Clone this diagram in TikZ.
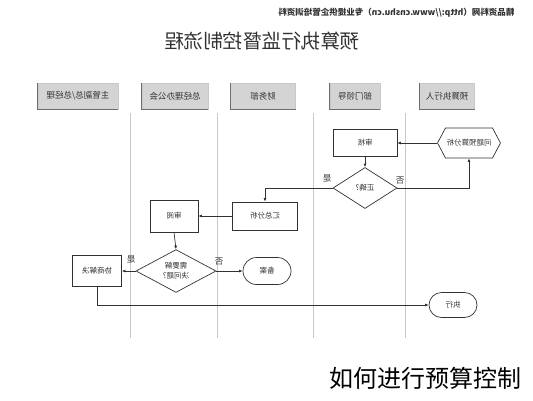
\documentclass[tikz,border=0pt]{standalone}
\usepackage{fontspec}
\usepackage{graphicx}
\setmainfont{Noto Sans CJK SC}
\usetikzlibrary{shapes.geometric}
\usetikzlibrary{shapes.misc}
\usetikzlibrary{shapes.symbols}
\usetikzlibrary{arrows.meta}
\definecolor{lgray}  {RGB}{200,200,200}
\definecolor{bgray}  {RGB}{212,212,212}
\definecolor{egray}  {RGB}{110,110,110}
\definecolor{ink}    {RGB}{50,50,50}
% the whole chart is printed mirror-wise
\newcommand{\mirtxt}[1]{\reflectbox{#1}}
\tikzset{
    lanehead/.style={fill=bgray, draw=lgray, minimum height=26pt, inner sep=1pt,
              font=\fontsize{8.5}{9}\selectfont, text=ink},
    laneedge/.style={draw=egray, line width=0.9pt},
    laneline/.style={draw=lgray, line width=0.6pt},
    taskbox/.style={rectangle, draw=ink, line width=0.7pt, inner sep=1pt,
              font=\fontsize{7.5}{8}\selectfont, text=ink},
    decide/.style={diamond, draw=ink, line width=0.7pt, inner sep=0pt,
              font=\fontsize{7.5}{9}\selectfont, text=ink},
    terminal/.style={rounded rectangle, draw=ink, line width=0.7pt, inner sep=1pt,
              font=\fontsize{7.5}{8}\selectfont, text=ink},
    problem/.style={signal, signal to=west and east, signal pointer angle=124,
              draw=ink, line width=0.7pt, inner sep=1pt,
              font=\fontsize{7.5}{8}\selectfont, text=ink},
    flow/.style={draw=ink, line width=0.7pt, -{Latex[length=3.5pt,width=3pt]}},
    answer/.style={font=\fontsize{8.5}{9}\selectfont, text=ink}
  }

\begin{document}
\begin{tikzpicture}[x=1pt,y=-1pt]
  \useasboundingbox (0,0) rectangle (533,400);
  %Page header and title
      \node[anchor=east, font=\bfseries\fontsize{8.5}{9}\selectfont, text=ink] (site) at (518,13)
          {\mirtxt{精品资料网（http://www.cnshu.cn）专业提供企管培训资料}};
      \node[font=\fontsize{19.5}{21}\selectfont, text=ink] (title) at (262,41)
          {\mirtxt{预算执行监督控制流程}};
  %Lane headers
      \node[lanehead, minimum width=80pt] (h1) at (78,96) {\mirtxt{主管副总/总经理}};
      \node[lanehead, minimum width=66pt] (h2) at (175,96) {\mirtxt{总经理办公会}};
      \node[lanehead, minimum width=65pt] (h3) at (263,96) {\mirtxt{财务部}};
      \node[lanehead, minimum width=50pt] (h4) at (355,96) {\mirtxt{部门领导}};
      \node[lanehead, minimum width=55pt] (h5) at (447,96) {\mirtxt{预算执行人}};
      \foreach \h in {h1,h2,h3,h4,h5}
          \draw[laneedge] (\h.north west) -- (\h.south west) -- (\h.south east);
  %Lane separators
      \foreach \x in {130,217,313,405}
          \draw[laneline] (\x,113) -- (\x,338);
  %Steps
      \node[problem, minimum width=60pt, minimum height=30pt] (ana) at (469,143) {\mirtxt{问题预算分析}};
      \node[taskbox, minimum width=64pt, minimum height=27pt] (check) at (365,143) {\mirtxt{审核}};
      \node[decide, minimum width=64pt, minimum height=41pt] (right) at (365,188) {\mirtxt{正确?}};
      \node[taskbox, minimum width=65pt, minimum height=28pt] (sum) at (265,216) {\mirtxt{汇总分析}};
      \node[taskbox, minimum width=48pt, minimum height=32pt] (review) at (174,216) {\mirtxt{审阅}};
      \node[decide, minimum width=80pt, minimum height=42pt] (solve) at (176,271)
          {\mirtxt{\shortstack{需要解\\决问题?}}};
      \node[taskbox, minimum width=49pt, minimum height=31pt] (talk) at (97,271) {\mirtxt{协商解决}};
      \node[terminal, minimum width=50pt, minimum height=27pt] (file) at (267,271) {\mirtxt{备案}};
      \node[terminal, minimum width=50pt, minimum height=25pt] (run) at (453,305) {\mirtxt{执行}};
  %Connectors
      \draw[flow] (ana.west) -- (check.east);
      \draw[flow] (check.south) -- (right.north);
      \draw[flow] (right.east) -| (ana.south);
      \draw[flow] (right.west) -| (sum.north);
      \draw[flow] (sum.west) -- (review.east);
      \draw[flow] (review.south) -- (solve.north);
      \draw[flow] (solve.west) -- (talk.east);
      \draw[flow] (solve.east) -- (file.west);
      \draw[flow] (talk.south) |- (run.west);
  %Yes / no marks
      \node[answer] (no1) at (400,181) {\mirtxt{否}};
      \node[answer] (yes1) at (327,178) {\mirtxt{是}};
      \node[answer] (yes2) at (131,259) {\mirtxt{是}};
      \node[answer] (no2) at (219,262) {\mirtxt{否}};
  %Caption
      \node[font=\fontsize{24}{26}\selectfont, text=black] (caption) at (425,378) {如何进行预算控制};
\end{tikzpicture}
\end{document}
